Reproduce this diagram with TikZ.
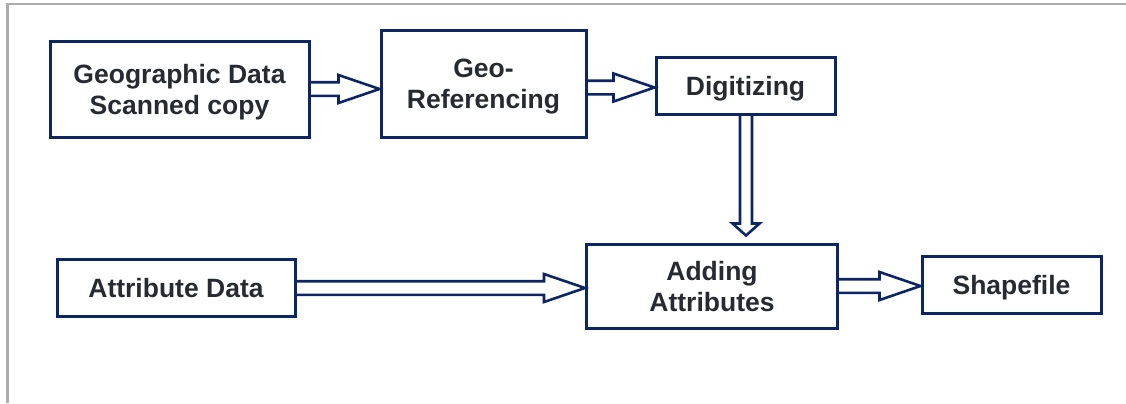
\documentclass[tikz,border=0pt]{standalone}
\usepackage{fontspec}
\setmainfont{Liberation Sans}
\usetikzlibrary{calc}

\definecolor{navy}{RGB}{12,38,100}
\definecolor{ink}{RGB}{38,42,50}
\definecolor{rim}{RGB}{173,173,173}

\tikzset{
  box/.style={draw=navy, line width=1.5pt, text=ink, align=center, inner sep=0pt,
    text depth=0pt, font=\bfseries\fontsize{13.25}{15.6}\selectfont},
  flow/.style={draw=navy, line width=1.3pt, line join=miter},
  rimline/.style={draw=rim, line width=1.3pt}
}

% hollow arrow, left to right
\newcommand{\harrow}[2]{%
  \draw[flow] let \p1=(#1), \p2=(#2) in
    (\x1,\y1+3.4pt) -- (\x2-20.5pt,\y1+3.4pt) -- (\x2-20.5pt,\y1+7pt) -- (\x2,\y1)
    -- (\x2-20.5pt,\y1-7pt) -- (\x2-20.5pt,\y1-3.4pt) -- (\x1,\y1-3.4pt);}
% hollow arrow, top to bottom
\newcommand{\varrow}[2]{%
  \draw[flow] let \p1=(#1), \p2=(#2) in
    (\x1-3pt,\y1) -- (\x1-3pt,\y2+6pt) -- (\x1-6.75pt,\y2+6pt) -- (\x1,\y2)
    -- (\x1+6.75pt,\y2+6pt) -- (\x1+3pt,\y2+6pt) -- (\x1+3pt,\y1);}

\begin{document}
\begin{tikzpicture}[x=0.5pt,y=-0.5pt]
  \useasboundingbox (0,0) rectangle (1126,403);
  \draw[rimline] (1126,4) -- (7.5,4) -- (7.5,403);

  \node[box, minimum width=129.5pt, minimum height=48pt] (scan) at (179.5,89) {Geographic Data\\Scanned copy};
  \node[box, minimum width=102.5pt, minimum height=53.5pt] (georef) at (483.5,83.5) {Geo-\\Referencing};
  \node[box, minimum width=89.5pt, minimum height=28.5pt] (digit) at (745.5,85.5) {Digitizing};
  \node[box, minimum width=119pt, minimum height=28.5pt] (attr) at (176,288) {Attribute Data};
  \node[box, minimum width=125.5pt, minimum height=42pt] (adding) at (712,286) {Adding\\Attributes};
  \node[box, minimum width=89.5pt, minimum height=28.5pt] (shape) at (1011.5,284.5) {Shapefile};

  \harrow{scan.east}{georef.west}
  \harrow{$(georef.east)+(0,4)$}{digit.west}
  \coordinate (digitfoot) at ($(digit.south)+(0.5,0)$);
  \coordinate (addtop) at ($(adding.north)+(0,-7)$);
  \varrow{digitfoot}{addtop}
  \harrow{attr.east}{adding.west}
  \harrow{adding.east}{shape.west}
\end{tikzpicture}
\end{document}
